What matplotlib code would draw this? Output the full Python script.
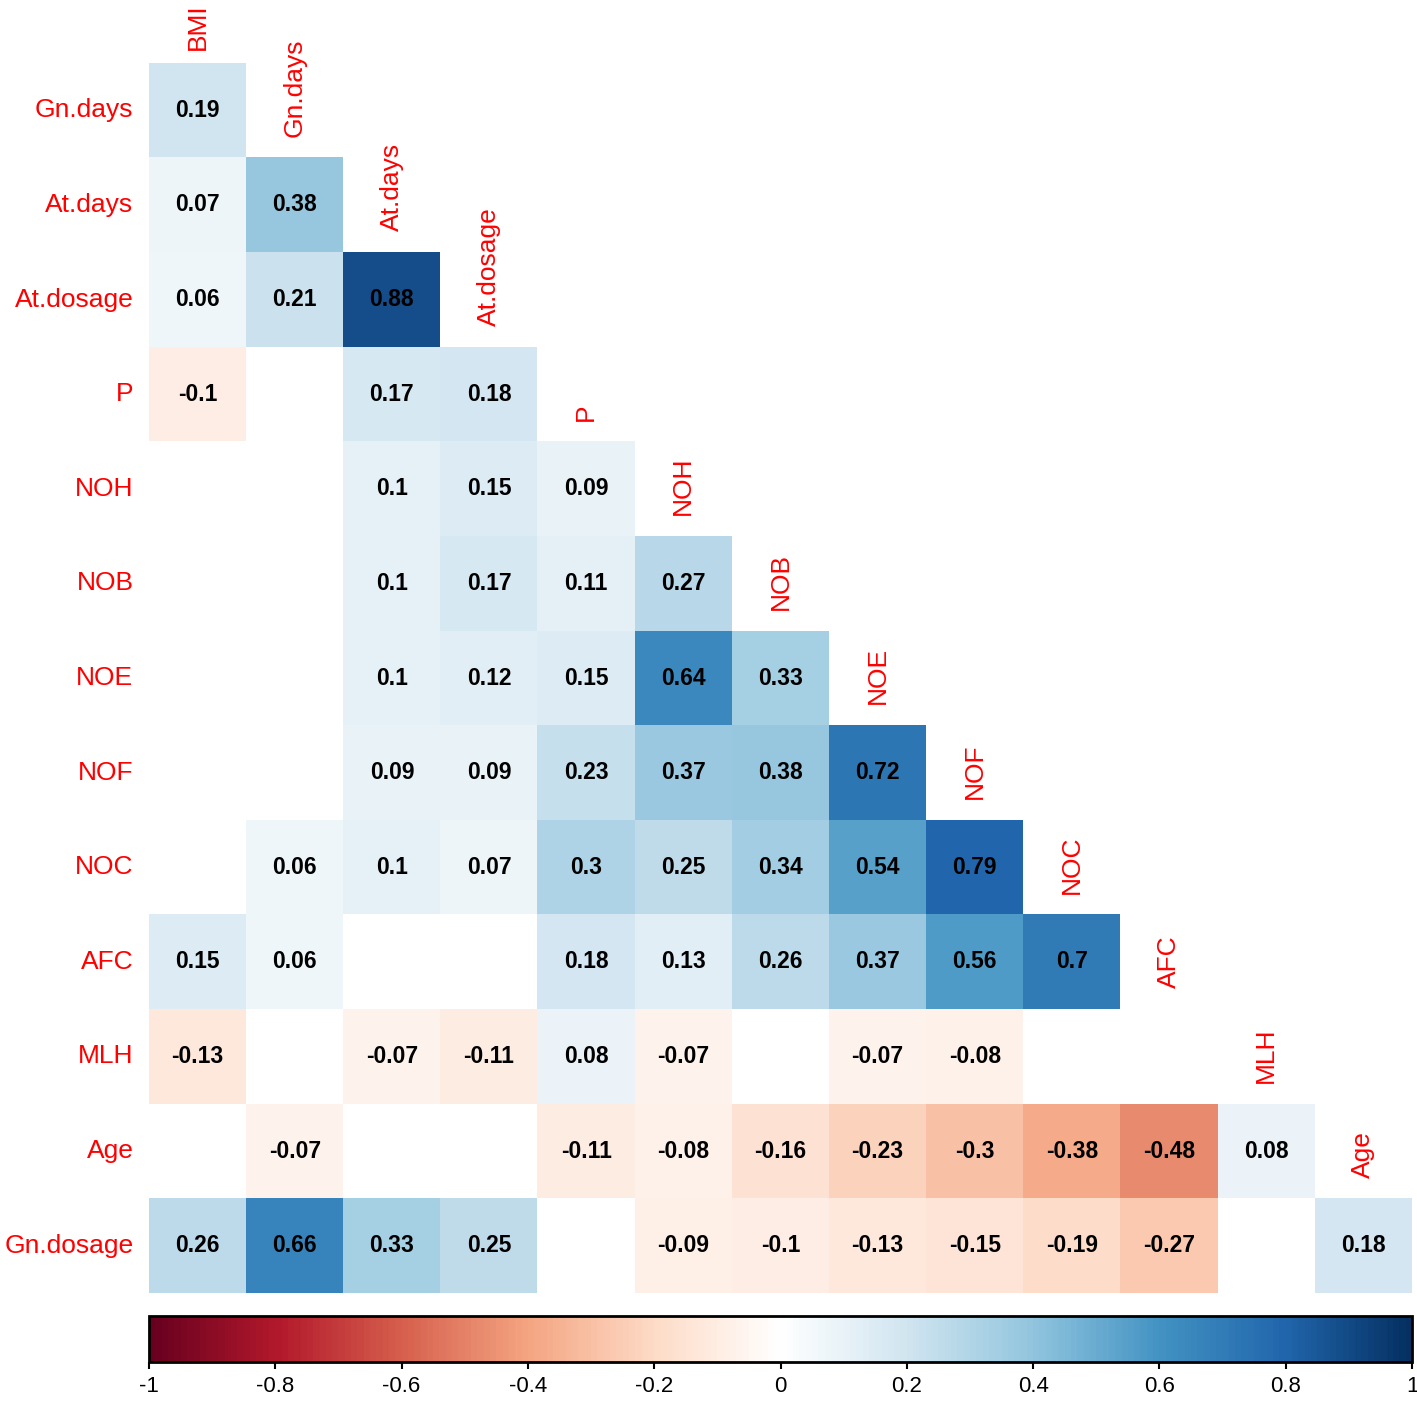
import numpy as np
import matplotlib
matplotlib.use("Agg")
import matplotlib.pyplot as plt
from matplotlib.colors import LinearSegmentedColormap

plt.rcParams['font.family'] = ['Liberation Sans', 'DejaVu Sans']

# variable names (columns of the lower triangle, rows start from the 2nd)
col_names = ["BMI", "Gn.days", "At.days", "At.dosage", "P", "NOH", "NOB",
             "NOE", "NOF", "NOC", "AFC", "MLH", "Age"]
row_names = ["Gn.days", "At.days", "At.dosage", "P", "NOH", "NOB", "NOE",
             "NOF", "NOC", "AFC", "MLH", "Age", "Gn.dosage"]

# significant correlations only (None = not shown)
r_gn_days = [0.19]
r_at_days = [0.07, 0.38]
r_at_dosage = [0.06, 0.21, 0.88]
r_p = [-0.1, None, 0.17, 0.18]
r_noh = [None, None, 0.1, 0.15, 0.09]
r_nob = [None, None, 0.1, 0.17, 0.11, 0.27]
r_noe = [None, None, 0.1, 0.12, 0.15, 0.64, 0.33]
r_nof = [None, None, 0.09, 0.09, 0.23, 0.37, 0.38, 0.72]
r_noc = [None, 0.06, 0.1, 0.07, 0.3, 0.25, 0.34, 0.54, 0.79]
r_afc = [0.15, 0.06, None, None, 0.18, 0.13, 0.26, 0.37, 0.56, 0.7]
r_mlh = [-0.13, None, -0.07, -0.11, 0.08, -0.07, None, -0.07, -0.08, None, None]
r_age = [None, -0.07, None, None, -0.11, -0.08, -0.16, -0.23, -0.3, -0.38, -0.48, 0.08]
r_gn_dosage = [0.26, 0.66, 0.33, 0.25, None, -0.09, -0.1, -0.13, -0.15, -0.19, -0.27, None, 0.18]

rows = [r_gn_days, r_at_days, r_at_dosage, r_p, r_noh, r_nob, r_noe, r_nof,
        r_noc, r_afc, r_mlh, r_age, r_gn_dosage]

cbar_ticks = [-1, -0.8, -0.6, -0.4, -0.2, 0, 0.2, 0.4, 0.6, 0.8, 1]

n = len(row_names)
mat = np.full((n, n), np.nan)
for i, r in enumerate(rows):
    for j, v in enumerate(r):
        if v is not None:
            mat[i, j] = v

cmap = LinearSegmentedColormap.from_list(
    "corr_rdbu",
    ["#67001F", "#B2182B", "#D6604D", "#F4A582", "#FDDBC7", "#FFFFFF",
     "#D1E5F0", "#92C5DE", "#4393C3", "#2166AC", "#053061"], N=200)
cmap.set_bad("white")

W, H = 1417, 1403
fig = plt.figure(figsize=(W / 100, H / 100), dpi=100)

# heatmap axes, placed by pixel edges
x0, x1, y0, y1 = 149, 1412, 63, 1293
ax = fig.add_axes([x0 / W, 1 - y1 / H, (x1 - x0) / W, (y1 - y0) / H])
ax.imshow(np.ma.masked_invalid(mat), cmap=cmap, vmin=-1, vmax=1,
          aspect="auto", interpolation="nearest")
ax.set_xlim(-0.5, n - 0.5)
ax.set_ylim(n - 0.5, -0.5)
ax.axis("off")

for i in range(n):
    for j in range(n):
        v = mat[i, j]
        if not np.isnan(v):
            ax.text(j, i, f"{v:g}", ha="center", va="center", fontsize=16.5,
                    fontweight="bold", color="black")

# row labels on the left
for i, name in enumerate(row_names):
    ax.text(-0.66, i, name, ha="right", va="center", fontsize=19,
            color="red", clip_on=False)

# column labels on the diagonal (first one nudged down to stay on the page)
for j, name in enumerate(col_names):
    off = 0.36 if j == 0 else 0.28
    ax.text(j, j - 1 + off, name, ha="center", va="bottom", rotation=90,
            fontsize=19, color="red", clip_on=False)

# colour bar
cb_y0, cb_y1 = 1316, 1362
cax = fig.add_axes([x0 / W, 1 - cb_y1 / H, (x1 - x0) / W, (cb_y1 - cb_y0) / H])
sm = plt.cm.ScalarMappable(cmap=cmap, norm=plt.Normalize(-1, 1))
cb = fig.colorbar(sm, cax=cax, orientation="horizontal", ticks=cbar_ticks)
cb.outline.set_linewidth(2)
cb.ax.set_xticklabels([f"{t:g}" for t in cbar_ticks])
cb.ax.tick_params(length=5, width=1.5, pad=5, labelsize=16, colors="black")

fig.savefig("out.png", dpi=100)
